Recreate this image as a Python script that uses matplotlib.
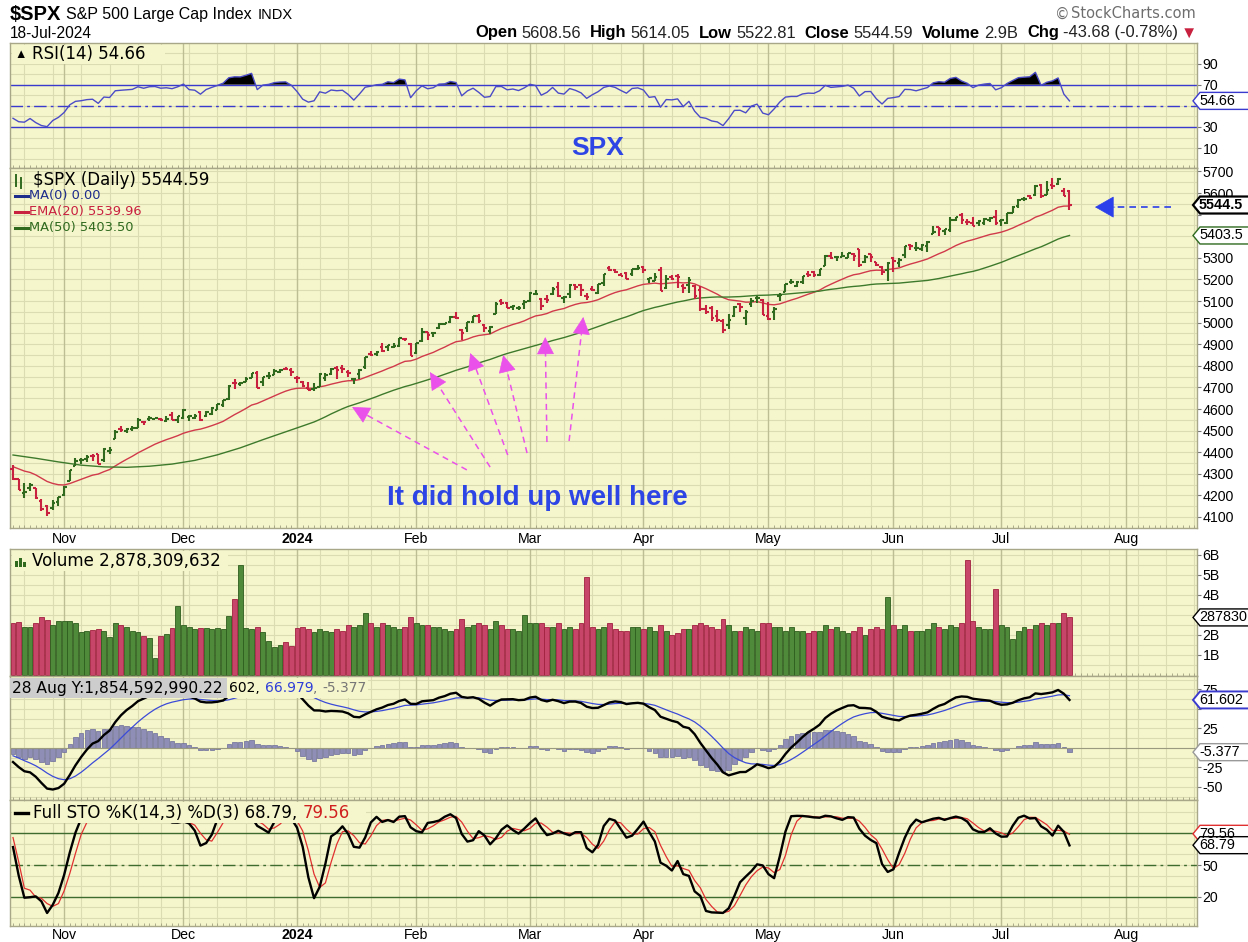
import numpy as np
import pandas as pd
import matplotlib
matplotlib.use("Agg")
import matplotlib.pyplot as plt
from matplotlib.collections import LineCollection
from matplotlib.patches import Polygon, Rectangle
from matplotlib.lines import Line2D

plt.rcParams["font.family"] = ["Liberation Sans", "DejaVu Sans"]

# ---- daily $SPX bars, 19-Oct-2023 .. 18-Jul-2024 ----
opens = [
    4321.4, 4273.9, 4210.4, 4235.8, 4232.4, 4176.0, 4152.9, 4139.4, 4171.3,
    4201.3, 4268.3, 4334.2, 4364.3, 4366.2, 4384.4, 4391.4, 4364.2, 4406.7, 4459.0, 4505.3,
    4497.1, 4509.6, 4511.7, 4538.8, 4553.0, 4555.8, 4554.9, 4545.6, 4571.8, 4548.4,
    4559.4, 4564.4, 4557.3, 4586.2, 4568.8, 4576.2, 4593.4, 4618.3, 4646.2, 4721.0,
    4714.2, 4725.6, 4743.7, 4764.7, 4724.3, 4753.9, 4758.9, 4773.5, 4786.4, 4782.9,
    4745.2, 4725.1, 4697.4, 4690.6, 4703.7, 4741.9, 4759.9, 4792.1, 4791.2, 4772.4,
    4739.1, 4760.1, 4796.3, 4853.4, 4856.8, 4888.6, 4886.7, 4888.9, 4893.0, 4925.9, 4899.2,
    4861.1, 4916.1, 4957.2, 4950.2, 4973.1, 4995.2, 5004.2, 5026.8, 4967.9, 4976.4,
    5003.1, 5031.1, 4989.3, 4963.0, 5038.8, 5100.9, 5093.0, 5074.6, 5067.2, 5085.4,
    5098.5, 5131.0, 5110.5, 5108.0, 5132.4, 5164.5, 5112.0, 5134.3, 5173.5, 5175.1,
    5123.3, 5154.8, 5139.1, 5181.7, 5253.4, 5242.5, 5219.5, 5228.9, 5226.3, 5248.0,
    5258.0, 5204.3, 5194.4, 5244.1, 5159.0, 5211.4, 5217.0, 5167.9, 5173.0, 5171.5,
    5149.7, 5064.6, 5069.0, 5031.5, 5005.4, 4987.3, 5028.9, 5084.7, 5019.9, 5084.7,
    5114.1, 5103.8,
    5029.0, 5049.3, 5122.8, 5142.4, 5187.2, 5169.0, 5189.0, 5225.5, 5233.1, 5221.1,
    5263.3, 5310.1, 5303.1, 5305.4, 5298.7, 5319.3, 5340.3, 5281.5, 5315.9, 5278.7,
    5259.8, 5243.2,
    5297.2, 5278.2, 5314.5, 5357.8, 5343.8, 5341.2, 5353.0, 5409.1, 5441.9, 5424.1,
    5431.1, 5476.2, 5500.0, 5466.8, 5459.6, 5460.7, 5460.7, 5473.6, 5488.5,
    5471.1, 5461.8, 5507.4, 5537.9, 5572.9, 5584.2, 5591.3, 5635.2, 5590.8, 5638.2,
    5644.1, 5610.1, 5608.6,
]
highs = [
    4339.5, 4276.6, 4255.8, 4259.4, 4232.4, 4183.6, 4156.7, 4177.5, 4194.0,
    4245.6, 4319.7, 4373.6, 4372.2, 4386.3, 4391.2, 4393.4, 4418.0, 4421.8, 4503.4, 4521.2,
    4512.0, 4520.1, 4557.1, 4542.1, 4568.4, 4560.3, 4560.5, 4568.1, 4587.6, 4569.9,
    4599.4, 4572.4, 4578.6, 4590.7, 4590.9, 4609.2, 4623.0, 4643.9, 4709.7, 4738.6,
    4725.5, 4749.5, 4768.7, 4778.0, 4748.7, 4772.9, 4784.7, 4785.4, 4793.3, 4788.4,
    4754.3, 4729.3, 4726.8, 4721.5, 4764.5, 4765.5, 4790.8, 4798.5, 4802.4, 4782.3,
    4744.2, 4785.8, 4842.1, 4868.4, 4866.5, 4903.7, 4898.2, 4906.7, 4929.3, 4931.1, 4906.8,
    4907.0, 4975.3, 4957.2, 4957.8, 4999.9, 5000.4, 5030.1, 5048.4, 4971.3, 5002.5,
    5032.7, 5038.7, 4993.6, 4983.2, 5094.4, 5111.1, 5097.7, 5080.7, 5077.4, 5105.0,
    5140.3, 5149.7, 5114.5, 5128.0, 5165.6, 5189.3, 5124.7, 5179.9, 5179.1, 5176.9,
    5136.9, 5170.3, 5180.3, 5226.2, 5261.1, 5246.1, 5229.1, 5235.2, 5249.3, 5264.9,
    5264.0, 5208.3, 5228.8, 5256.6, 5222.2, 5219.6, 5224.8, 5178.4, 5211.8, 5175.0,
    5168.4, 5079.8, 5078.0, 5056.7, 5019.0, 5038.8, 5076.1, 5089.5, 5057.8, 5114.6,
    5123.5, 5110.8,
    5096.1, 5073.2, 5139.1, 5181.0, 5200.2, 5192.0, 5215.3, 5239.7, 5237.3, 5250.4,
    5311.8, 5325.5, 5305.4, 5325.3, 5324.3, 5323.2, 5341.9, 5311.6, 5315.9, 5282.3,
    5260.2, 5280.3,
    5302.1, 5298.8, 5354.2, 5362.4, 5375.1, 5365.8, 5375.9, 5447.3, 5441.9, 5432.4,
    5488.5, 5490.4, 5505.5, 5478.3, 5490.7, 5472.9, 5483.1, 5490.8, 5523.6,
    5479.6, 5509.7, 5539.3, 5570.3, 5583.1, 5590.8, 5635.4, 5642.5, 5655.6, 5670.4,
    5669.7, 5622.5, 5614.1,
]
lows = [
    4269.7, 4223.0, 4189.2, 4219.4, 4181.4, 4127.9, 4103.8, 4132.9, 4153.1,
    4197.7, 4268.3, 4334.2, 4347.5, 4355.4, 4359.8, 4343.9, 4353.3, 4393.8, 4459.0, 4495.3,
    4487.8, 4499.7, 4510.4, 4525.5, 4545.1, 4552.8, 4546.3, 4540.5, 4547.2, 4537.2,
    4554.7, 4546.7, 4551.7, 4546.5, 4565.2, 4574.1, 4593.4, 4609.0, 4643.2, 4694.3,
    4704.7, 4725.6, 4743.7, 4697.8, 4708.4, 4736.8, 4758.9, 4768.9, 4781.0, 4752.0,
    4722.7, 4699.7, 4687.5, 4682.1, 4699.8, 4730.4, 4756.2, 4739.6, 4769.0, 4747.1,
    4714.8, 4740.6, 4785.9, 4844.1, 4844.4, 4865.9, 4869.3, 4881.5, 4887.4, 4916.3, 4845.2,
    4853.5, 4908.0, 4918.1, 4934.9, 4970.0, 4987.1, 5000.3, 5016.3, 4920.3, 4956.9,
    4999.4, 4999.5, 4955.0, 4946.0, 5038.8, 5081.5, 5068.9, 5057.3, 5058.4, 5061.9,
    5094.2, 5127.2, 5056.8, 5092.2, 5128.2, 5117.5, 5091.1, 5114.5, 5151.9, 5123.3,
    5104.4, 5145.5, 5131.6, 5171.6, 5240.7, 5229.9, 5216.1, 5203.4, 5213.9, 5245.0,
    5229.2, 5184.1, 5194.4, 5146.1, 5157.2, 5197.4, 5160.8, 5138.7, 5138.8, 5107.9,
    5052.5, 5039.8, 5007.3, 5001.9, 4953.6, 4969.4, 5028.0, 5047.0, 4990.6, 5073.1,
    5088.7, 5035.3,
    5013.5, 5011.1, 5101.2, 5142.4, 5179.0, 5165.9, 5180.4, 5209.7, 5211.2, 5218.0,
    5263.3, 5296.2, 5283.6, 5302.4, 5297.9, 5286.0, 5256.9, 5278.4, 5280.9, 5262.7,
    5222.1, 5191.7,
    5234.3, 5257.6, 5297.6, 5335.4, 5331.3, 5331.5, 5327.3, 5409.1, 5402.5, 5403.8,
    5420.4, 5471.3, 5455.6, 5452.0, 5447.6, 5446.6, 5451.9, 5467.5, 5451.1,
    5446.5, 5458.4, 5507.4, 5531.6, 5562.5, 5574.6, 5586.4, 5576.5, 5590.4, 5619.5,
    5639.0, 5584.8, 5522.8,
]
closes = [
    4278.0, 4224.2, 4217.0, 4247.7, 4186.8, 4137.2, 4117.4, 4166.8, 4193.8,
    4237.9, 4317.8, 4358.3, 4366.0, 4378.4, 4382.8, 4347.4, 4415.2, 4411.6, 4495.7, 4502.9,
    4508.2, 4514.0, 4547.4, 4538.2, 4556.6, 4559.3, 4550.4, 4554.9, 4550.6, 4567.8,
    4594.6, 4569.8, 4567.2, 4549.3, 4585.6, 4604.4, 4622.4, 4643.7, 4707.1, 4719.6,
    4719.2, 4740.6, 4768.4, 4698.4, 4746.8, 4754.6, 4774.8, 4781.6, 4783.4, 4769.8,
    4742.8, 4704.8, 4688.7, 4697.2, 4763.5, 4756.5, 4783.5, 4780.2, 4783.8, 4766.0,
    4739.2, 4780.9, 4839.8, 4850.4, 4864.6, 4868.6, 4894.2, 4891.0, 4927.9, 4925.0, 4845.7,
    4906.2, 4958.6, 4942.8, 4954.2, 4995.1, 4997.9, 5026.6, 5021.8, 4953.2, 5000.6,
    5029.7, 5005.6, 4975.5, 4981.8, 5087.0, 5088.8, 5069.5, 5078.2, 5069.8, 5096.3,
    5137.1, 5131.0, 5078.7, 5104.8, 5157.4, 5123.7, 5117.9, 5175.3, 5165.3, 5150.5,
    5117.1, 5149.4, 5178.5, 5224.6, 5241.5, 5234.2, 5218.2, 5203.6, 5248.5, 5254.4,
    5243.8, 5205.8, 5211.5, 5147.2, 5204.3, 5202.4, 5209.9, 5160.6, 5199.1, 5123.4,
    5061.8, 5051.4, 5022.2, 5011.1, 4967.2, 5010.6, 5070.6, 5071.6, 5048.4, 5100.0,
    5116.2, 5035.7,
    5018.4, 5064.2, 5127.8, 5180.7, 5187.7, 5187.7, 5214.1, 5222.7, 5221.4, 5246.7,
    5308.2, 5297.1, 5303.3, 5308.1, 5321.4, 5307.0, 5267.8, 5304.7, 5306.0, 5267.0,
    5235.5, 5277.5,
    5283.4, 5291.3, 5354.0, 5353.0, 5347.0, 5360.8, 5375.3, 5421.0, 5433.7, 5431.6,
    5473.2, 5487.0, 5473.2, 5464.6, 5447.9, 5469.3, 5477.9, 5482.9, 5460.5,
    5475.1, 5509.0, 5537.0, 5567.2, 5572.9, 5577.0, 5633.9, 5584.5, 5615.4, 5631.2,
    5667.2, 5588.3, 5544.6,
]
# volume in billions
volume_b = [
    2.58, 2.66, 2.38, 2.42, 2.58, 2.89, 2.75, 2.50, 2.70,
    2.71, 2.71, 2.58, 2.13, 2.21, 2.25, 2.28, 2.21, 1.92, 2.58, 2.50,
    2.42, 2.21, 2.15, 1.97, 1.83, 0.83, 1.97, 2.05, 2.35, 3.47,
    2.50, 2.42, 2.28, 2.35, 2.33, 2.28, 2.33, 2.28, 2.94, 3.78,
    5.50, 2.33, 2.28, 2.42, 2.13, 1.72, 1.38, 1.50, 1.67, 1.45,
    2.33, 2.42, 2.28, 2.13, 2.28, 2.21, 2.16, 2.28, 2.21, 2.50,
    2.40, 2.50, 3.10, 2.60, 2.40, 2.60, 2.50, 2.40, 2.30, 2.40, 2.90,
    2.60, 2.50, 2.50, 2.40, 2.40, 2.30, 2.20, 2.30, 2.80, 2.40,
    2.50, 2.60, 2.50, 2.30, 2.70, 2.50, 2.30, 2.30, 2.20, 3.00,
    2.60, 2.60, 2.60, 2.40, 2.40, 2.60, 2.30, 2.40, 2.30, 2.60,
    4.90, 2.40, 2.30, 2.40, 2.60, 2.30, 2.20, 2.20, 2.40, 2.40,
    2.30, 2.40, 2.20, 2.50, 2.20, 2.00, 2.10, 2.30, 2.30, 2.50,
    2.60, 2.50, 2.40, 2.30, 2.80, 2.50, 2.20, 2.20, 2.40, 2.30,
    2.20, 2.60,
    2.60, 2.40, 2.40, 2.20, 2.40, 2.20, 2.20, 2.10, 2.20, 2.20,
    2.50, 2.30, 2.40, 2.20, 2.10, 2.20, 2.40, 2.00, 2.30, 2.40,
    2.30, 3.90,
    2.50, 2.30, 2.50, 2.20, 2.20, 2.20, 2.30, 2.60, 2.40, 2.30,
    2.50, 2.40, 2.60, 5.75, 2.70, 2.40, 2.30, 2.30, 4.30,
    2.50, 2.40, 1.80, 2.20, 2.40, 2.30, 2.50, 2.60, 2.50, 2.60,
    2.60, 3.10, 2.88,
]

# indicator values read at the left edge of the chart
ema20_start = 4333.0
ma50_early = [4387, 4372, 4355, 4340, 4332, 4330, 4335, 4345, 4362, 4388, 4420, 4458, 4494]
rsi_gain_start, rsi_loss_start = 17.0, 27.5
ema12_start, ema26_start, signal_start = 4322.0, 4340.0, -10.0
sto_k_head = [67, 40, 19]
sto_d_head = [76, 53, 28]

month_labels = ["Nov", "Dec", "2024", "Feb", "Mar", "Apr", "May", "Jun", "Jul", "Aug"]
holidays = ["2023-11-23", "2023-12-25", "2024-01-01", "2024-01-15", "2024-02-19",
            "2024-03-29", "2024-05-27", "2024-06-19", "2024-07-04"]

# ---- indicators ----
c = np.array(closes, float)
n = len(c)
xi = np.arange(n)

ema20 = np.empty(n); ema20[0] = ema20_start
e12 = np.empty(n); e12[0] = ema12_start
e26 = np.empty(n); e26[0] = ema26_start
for i in range(1, n):
    ema20[i] = ema20[i-1] + (c[i] - ema20[i-1]) * 2 / 21
    e12[i] = e12[i-1] + (c[i] - e12[i-1]) * 2 / 13
    e26[i] = e26[i-1] + (c[i] - e26[i-1]) * 2 / 27
macd = e12 - e26
signal = np.empty(n); signal[0] = signal_start
for i in range(1, n):
    signal[i] = signal[i-1] + (macd[i] - signal[i-1]) * 0.2
hist = macd - signal

ma50_calc = pd.Series(c).rolling(50).mean().to_numpy()
ma50_x = np.r_[np.arange(0, 49, 4), np.arange(49, n)]
ma50_y = np.r_[ma50_early, ma50_calc[49:]]

ag, al = rsi_gain_start, rsi_loss_start
rsi = [100 - 100 / (1 + ag / al)]
for ch in np.diff(c):
    ag = (ag * 13 + max(ch, 0)) / 14
    al = (al * 13 + max(-ch, 0)) / 14
    rsi.append(100 - 100 / (1 + ag / al))
rsi = np.array(rsi)

hh = pd.Series(highs).rolling(14, min_periods=1).max()
ll = pd.Series(lows).rolling(14, min_periods=1).min()
fast_k = 100 * (pd.Series(c) - ll) / (hh - ll)
sto_k = fast_k.rolling(3, min_periods=1).mean().to_numpy()
sto_k[:3] = sto_k_head
sto_d = pd.Series(sto_k).rolling(3, min_periods=1).mean().to_numpy()
sto_d[:3] = sto_d_head

# ---- calendar ----
cal = pd.bdate_range("2023-10-19", "2024-08-30", freq="C", holidays=holidays)
XMIN, XMAX = -0.53, 208.45
month_pos = [i for i in range(1, len(cal)) if cal[i].month != cal[i-1].month and i <= XMAX]
week_pos = [i for i in range(1, len(cal)) if cal[i].weekday() < cal[i-1].weekday() and i <= XMAX]

# ---- style ----
W, H = 1248, 942
BG = "#F6F6CC"
GRID = "#DCDCB3"
MGRID = "#BEBE95"
UP, DN = "#2F6A1F", "#C8203F"
LEG = ["DejaVu Sans"]

fig = plt.figure(figsize=(W / 100, H / 100), dpi=100)
L, R = 10, 1197


def panel(top, bottom, ylim, yticks, ylabels, hgrid):
    ax = fig.add_axes([L / W, 1 - bottom / H, (R - L) / W, (bottom - top) / H])
    ax.set_facecolor(BG)
    ax.set_xlim(XMIN, XMAX)
    ax.set_ylim(*ylim)
    for s in ax.spines.values():
        s.set_color("#A8A888")
        s.set_linewidth(1)
    for i in week_pos:
        ax.axvline(i, color=GRID, lw=0.8, zorder=0.5)
    for i in month_pos:
        ax.axvline(i, color=MGRID, lw=1.0, zorder=0.6)
    for v in hgrid:
        ax.axhline(v, color=GRID, lw=0.8, zorder=0.5)
    ax.yaxis.tick_right()
    ax.set_yticks(yticks)
    ax.set_yticklabels(ylabels)
    ax.tick_params(axis="y", length=3, width=0.8, color="#777777", labelsize=10.2, pad=1)
    ax.set_xticks([])
    ax.set_xticks(np.arange(0, XMAX), minor=True)
    ax.tick_params(axis="x", which="minor", length=2, width=0.6, color="#A0A080", direction="in")
    return ax


def month_axis(ax, pad):
    ax.set_xticks(month_pos)
    ax.set_xticklabels(month_labels)
    ax.tick_params(axis="x", which="major", length=0, labelsize=10.2, pad=pad)
    for t in ax.get_xticklabels():
        if t.get_text() == "2024":
            t.set_fontweight("bold")


def fig_rect(x0, y0, x1, y1, color, z=2.5):
    fig.add_artist(Rectangle((x0 / W, 1 - y1 / H), (x1 - x0) / W, (y1 - y0) / H,
                             transform=fig.transFigure, fc=color, ec="none", zorder=z))


def runs(x, y, parts, size, family=None, ha="left"):
    r = fig.canvas.get_renderer()
    ts, gaps = [], []
    for s, col, wt, gap in parts:
        kw = dict(fontsize=size, color=col, fontweight=wt, va="center", ha="left", zorder=6)
        if family:
            kw["family"] = family
        ts.append(fig.text(0, 0, s, **kw))
        gaps.append(gap)
    ws = [t.get_window_extent(r).width for t in ts]
    total = sum(ws) + sum(gaps[:-1])
    x0 = x - total if ha == "right" else x
    for t, w, g in zip(ts, ws, gaps):
        t.set_position((x0 / W, 1 - y / H))
        x0 += w + g


def tag(ax, val, text, ec, lw=1.0, bold=False):
    yd = ax.transData.transform((0, val))[1]
    x0, x1, h = 1193, 1262, 8.5
    pts = [(x0, yd), (x0 + 7, yd + h), (x1, yd + h), (x1, yd - h), (x0 + 7, yd - h)]
    fig.add_artist(Polygon([(px / W, py / H) for px, py in pts], closed=True,
                           transform=fig.transFigure, fc="white", ec=ec, lw=lw, zorder=5))
    fig.text(1199 / W, yd / H, text, fontsize=10.4, va="center", ha="left",
             fontweight="bold" if bold else "normal", zorder=6)


def dash_icon(x0, x1, y, color, lw=2.2):
    fig.add_artist(Line2D([x0 / W, x1 / W], [1 - y / H, 1 - y / H], color=color, lw=lw,
                          transform=fig.transFigure, zorder=6))


# ---- RSI panel ----
ax_rsi = panel(43, 168, (-8.8, 109.4), [10, 30, 50, 70, 90], ["10", "30", "", "70", "90"],
               np.arange(0, 101, 10))
ax_rsi.fill_between(xi, rsi, 70, where=rsi > 70, interpolate=True, color="black", lw=0, zorder=2)
ax_rsi.plot(xi, rsi, color="#4B4BC8", lw=1.0, zorder=3)
for v in (70, 30):
    ax_rsi.axhline(v, color="#3A3ACF", lw=1.0, zorder=2.5)
ax_rsi.axhline(50, color="#3A3ACF", lw=1.0, ls=(0, (9, 3, 2, 3)), zorder=2.5)
ax_rsi.text(103, 10, "SPX", color="#2E45E6", fontsize=19, fontweight="bold", ha="center", va="center")

# ---- price panel ----
price_ticks = list(range(4100, 5701, 100))
ax_p = panel(168, 528, (4049, 5716), price_ticks,
             ["" if v in (5400, 5500) else str(v) for v in price_ticks], np.arange(4050, 5716, 50))
segs, cols = [], []
for i in range(n):
    col = UP if closes[i] >= opens[i] else DN
    segs += [[(i, lows[i]), (i, highs[i])],
             [(i - 0.45, opens[i]), (i, opens[i])],
             [(i, closes[i]), (i + 0.45, closes[i])]]
    cols += [col] * 3
ax_p.add_collection(LineCollection(segs, colors=cols, linewidths=1.5, capstyle="butt", zorder=4))
ax_p.plot(xi, ema20, color="#D03A4A", lw=1.0, zorder=3)
ax_p.plot(ma50_x, ma50_y, color="#3D7A2C", lw=1.0, zorder=3)
month_axis(ax_p, 3)

# magenta annotation arrows: (tip bar, tip price, tail bar, tail price)
arrows = [(59.7, 4609, 79.9, 4318), (73.4, 4771, 84.0, 4331), (80.5, 4859, 87.1, 4387),
          (86.3, 4850, 90.5, 4396), (93.7, 4933, 94.0, 4447), (100.4, 5026, 97.9, 4452)]
MAG = "#EA50EA"
for tx, ty, sx, sy in arrows:
    ax_p.plot([sx, tx + (sx - tx) * 0.05], [sy, ty + (sy - ty) * 0.05],
              color=MAG, lw=1.1, ls=(0, (4, 3)), zorder=5)
    ax_p.annotate("", xy=(tx, ty), xytext=(tx + (sx - tx) * 0.15, ty + (sy - ty) * 0.15),
                  arrowprops=dict(arrowstyle="-|>,head_length=1.0,head_width=0.5",
                                  color=MAG, lw=0.5, mutation_scale=11.5,
                                  shrinkA=0, shrinkB=0), zorder=6)
ax_p.text(92.4, 4188, "It did hold up well here", color="#2E45E6", fontsize=20,
          fontweight="bold", ha="center", va="center")
BLUE = "#2B3FEA"
ax_p.plot([192.5, 204.0], [5535, 5535], color=BLUE, lw=1.2, ls=(0, (4, 3)), zorder=5)
ax_p.annotate("", xy=(190.5, 5535), xytext=(194.0, 5535),
              arrowprops=dict(arrowstyle="-|>,head_length=1.05,head_width=0.6",
                              color=BLUE, lw=0.5, mutation_scale=12,
                              shrinkA=0, shrinkB=0), zorder=6)

# ---- volume panel ----
ax_v = panel(549, 676, (-0.05, 6.3), [1, 2, 3, 4, 5, 6], ["1B", "2B", "", "4B", "5B", "6B"],
             np.arange(0.5, 6.3, 0.5))
vcols = ["#4F8A3B" if closes[i] >= opens[i] else "#C8456A" for i in range(n)]
vedge = ["#2E5E1E" if closes[i] >= opens[i] else "#A0203F" for i in range(n)]
ax_v.bar(xi, volume_b, width=0.86, color=vcols, edgecolor=vedge, lw=0.6, zorder=3)

# ---- MACD panel ----
ax_m = panel(676, 800, (-66.7, 92.3), [-50, -25, 0, 25, 50, 75],
             ["-50", "-25", "", "25", "", "75"], np.arange(-62.5, 92, 12.5))
ax_m.bar(xi, hist, width=0.8, color="#8E8EB6", edgecolor="#6C6C98", lw=0.5, zorder=2)
ax_m.axhline(0, color="#9A9A80", lw=0.8, zorder=2.2)
ax_m.plot(xi, signal, color="#3B4BD8", lw=0.9, zorder=3)
ax_m.plot(xi, macd, color="black", lw=1.7, zorder=4)

# ---- STO panel ----
ax_s = panel(800, 926, (-7.8, 111.6), [20, 50, 80], ["20", "50", ""], np.arange(0, 101, 10))
for v in (80, 20):
    ax_s.axhline(v, color="#3E6B2E", lw=1.0, zorder=2.5)
ax_s.axhline(50, color="#3E6B2E", lw=1.0, ls=(0, (9, 3, 2, 3)), zorder=2.5)
ax_s.plot(xi, sto_d, color="#E03030", lw=0.9, zorder=3)
ax_s.plot(xi, sto_k, color="black", lw=1.7, zorder=4)
month_axis(ax_s, 1.5)

# ---- header ----
runs(10, 14, [("$SPX", "black", "bold", 0)], 14.5)
runs(66, 15, [("S&P 500 Large Cap Index", "black", "normal", 0)], 11.5)
runs(258, 15, [("INDX", "black", "normal", 0)], 10.5)
runs(10, 33, [("18-Jul-2024", "black", "normal", 0)], 11.2)
runs(1197, 33, [("Open", "black", "bold", 4), ("5608.56", "#222222", "normal", 9),
                ("High", "black", "bold", 4), ("5614.05", "#222222", "normal", 9),
                ("Low", "black", "bold", 4), ("5522.81", "#222222", "normal", 9),
                ("Close", "black", "bold", 4), ("5544.59", "#222222", "normal", 9),
                ("Volume", "black", "bold", 4), ("2.9B", "#222222", "normal", 9),
                ("Chg", "black", "bold", 4), ("-43.68 (-0.78%)", "#222222", "normal", 3),
                ("\u25bc", "#C8203F", "normal", 0)], 11.9, ha="right")
runs(1196, 14, [("\u00a9", "#6E6E6E", "normal", 2), ("StockCharts.com", "#6E6E6E", "normal", 0)],
     10.5, family=LEG, ha="right")

# ---- panel legends ----
fig_rect(12, 45, 165, 64, BG)
fig.text(14 / W, 1 - 55 / H, "\u25b2", fontsize=9, color="black", va="center", zorder=6)
runs(32, 54, [("RSI(14) 54.66", "black", "normal", 0)], 12, family=LEG)

for k, (y0, y1, col) in enumerate([(175, 186, UP), (178, 188, UP)]):
    fig.add_artist(Line2D([(16 + 5 * k) / W] * 2, [1 - y0 / H, 1 - y1 / H], color=col, lw=1.4,
                          transform=fig.transFigure, zorder=6))
runs(33, 180, [("$SPX (Daily) 5544.59", "black", "normal", 0)], 12, family=LEG)
for y, txt, col in [(196, "MA(0) 0.00", "#1C2C8C"), (212, "EMA(20) 5539.96", "#C8203F"),
                    (228, "MA(50) 5403.50", "#2F6A1F")]:
    dash_icon(15, 28, y, col)
    runs(29, y, [(txt, col, "normal", 0)], 9.4, family=LEG)

fig_rect(12, 551, 228, 571, BG)
for k, hb in enumerate([6, 9, 5]):
    fig_rect(15 + k * 4, 567 - hb, 18 + k * 4, 567, "#2F6A1F", z=6)
runs(32, 561, [("Volume 2,878,309,632", "black", "normal", 0)], 12, family=LEG)

fig_rect(227, 678, 368, 698, BG)
fig_rect(10, 678, 227, 698, "#CDCDCD", z=2.6)
runs(12, 688, [("28 Aug Y:1,854,592,990.22", "black", "normal", 0)], 11.2, family=LEG)
runs(229, 688, [("602,", "black", "normal", 5), ("66.979", "#2E3FD8", "normal", 0),
                (",", "#777777", "normal", 5), ("-5.377", "#777777", "normal", 0)], 10, family=LEG)

fig_rect(12, 802, 366, 823, BG)
dash_icon(15, 28, 813, "black", lw=2.4)
runs(33, 813, [("Full STO %K(14,3) %D(3) 68.79,", "black", "normal", 5),
               ("79.56", "#D02020", "normal", 0)], 12, family=LEG)

# ---- right-edge value tags (text as far as it shows before the edge) ----
tag(ax_rsi, 54.66, "54.66", "#3A3ACF")
tag(ax_p, 5544.59, "5544.5", "black", lw=1.6, bold=True)
tag(ax_p, 5403.5, "5403.5", "#2F6A1F")
tag(ax_v, 2.8783, "287830", "black")
tag(ax_m, 61.602, "61.602", "#3A3ACF", lw=1.4)
tag(ax_m, -5.377, "-5.377", "#999999")
tag(ax_s, 79.56, "79.56", "#E03030")
tag(ax_s, 68.79, "68.79", "black")

fig.savefig("out.png", dpi=100)
